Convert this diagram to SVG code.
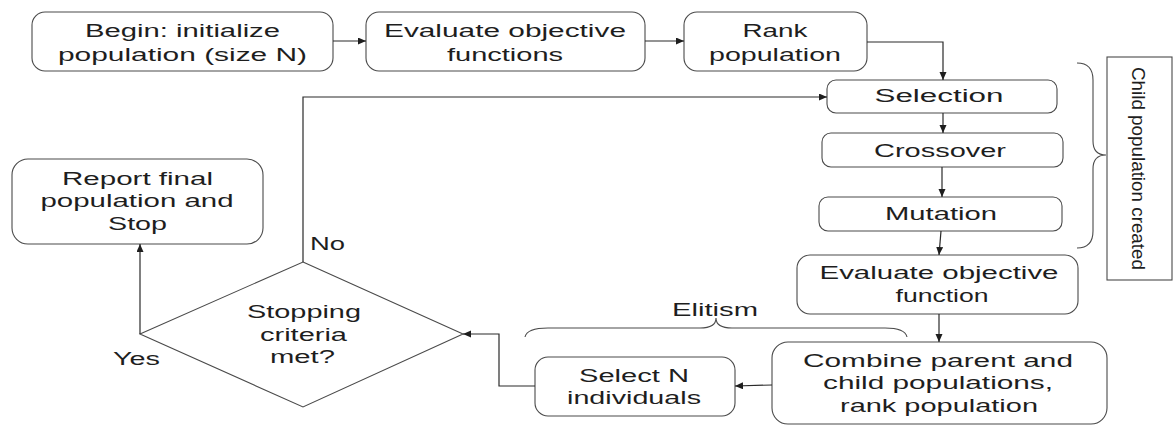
<svg xmlns="http://www.w3.org/2000/svg" width="1174" height="426" viewBox="0 0 1174 426">
<style>
.box{fill:#fff;stroke:#4a4a4a;stroke-width:1.1}
.t{font-family:"Liberation Sans",Arial,sans-serif;font-size:17.5px;fill:#1e1e1e;text-anchor:middle}
.c{fill:none;stroke:#2a2a2a;stroke-width:1.2}
.br{fill:none;stroke:#4a4a4a;stroke-width:1.1}
</style>
<defs>
<marker id="ah" markerUnits="userSpaceOnUse" markerWidth="9" markerHeight="8" refX="8" refY="3.5" orient="auto">
<path d="M0,0 L8,3.5 L0,7 z" fill="#1e1e1e"/>
</marker>
</defs>
<rect width="1174" height="426" fill="#fff"/>

<g id="begin">
<rect class="box" x="32" y="12" width="301" height="59" rx="13"/>
<text class="t" x="182.5" y="37" textLength="195" lengthAdjust="spacingAndGlyphs">Begin: initialize</text>
<text class="t" x="182.5" y="61" textLength="249" lengthAdjust="spacingAndGlyphs">population (size N)</text>
</g>
<g id="evaluate1">
<rect class="box" x="366" y="12" width="279" height="59" rx="13"/>
<text class="t" x="505" y="37" textLength="242" lengthAdjust="spacingAndGlyphs">Evaluate objective</text>
<text class="t" x="505" y="61" textLength="116" lengthAdjust="spacingAndGlyphs">functions</text>
</g>
<g id="rank">
<rect class="box" x="684" y="12" width="183" height="59" rx="13"/>
<text class="t" x="775" y="37" textLength="65" lengthAdjust="spacingAndGlyphs">Rank</text>
<text class="t" x="775" y="61" textLength="132" lengthAdjust="spacingAndGlyphs">population</text>
</g>
<g id="selection">
<rect class="box" x="827" y="80" width="230" height="33" rx="9"/>
<text class="t" x="939" y="102" textLength="129" lengthAdjust="spacingAndGlyphs">Selection</text>
</g>
<g id="crossover">
<rect class="box" x="822" y="133" width="241" height="34" rx="9"/>
<text class="t" x="940" y="157" textLength="132" lengthAdjust="spacingAndGlyphs">Crossover</text>
</g>
<g id="mutation">
<rect class="box" x="819" y="197" width="243" height="34" rx="9"/>
<text class="t" x="941" y="220" textLength="112" lengthAdjust="spacingAndGlyphs">Mutation</text>
</g>
<g id="evaluate2">
<rect class="box" x="797" y="255" width="281" height="59" rx="13"/>
<text class="t" x="939" y="279" textLength="239" lengthAdjust="spacingAndGlyphs">Evaluate objective</text>
<text class="t" x="942" y="302" textLength="93" lengthAdjust="spacingAndGlyphs">function</text>
</g>
<g id="combine">
<rect class="box" x="772" y="342" width="335" height="82" rx="16"/>
<text class="t" x="938" y="367" textLength="270" lengthAdjust="spacingAndGlyphs">Combine parent and</text>
<text class="t" x="938" y="389" textLength="230" lengthAdjust="spacingAndGlyphs">child populations,</text>
<text class="t" x="939" y="412" textLength="198" lengthAdjust="spacingAndGlyphs">rank population</text>
</g>
<g id="selectN">
<rect class="box" x="535" y="357" width="200" height="59" rx="13"/>
<text class="t" x="634" y="382" textLength="110" lengthAdjust="spacingAndGlyphs">Select N</text>
<text class="t" x="634" y="404" textLength="134" lengthAdjust="spacingAndGlyphs">individuals</text>
</g>
<g id="stopping">
<polygon class="box" points="303,262 463,334 303,407 140,334"/>
<text class="t" x="304" y="318" textLength="114" lengthAdjust="spacingAndGlyphs">Stopping</text>
<text class="t" x="303.5" y="341" textLength="87" lengthAdjust="spacingAndGlyphs">criteria</text>
<text class="t" x="302.5" y="363" textLength="65" lengthAdjust="spacingAndGlyphs">met?</text>
</g>
<g id="report">
<rect class="box" x="12" y="159" width="251" height="85" rx="16"/>
<text class="t" x="137.5" y="185" textLength="151" lengthAdjust="spacingAndGlyphs">Report final</text>
<text class="t" x="137" y="207" textLength="193" lengthAdjust="spacingAndGlyphs">population and</text>
<text class="t" x="137.5" y="230" textLength="59" lengthAdjust="spacingAndGlyphs">Stop</text>
</g>
<g id="childPopulation">
<rect class="box" x="1107" y="57" width="65" height="223"/>
<text class="t" transform="translate(1132,168.5) rotate(90)" x="0" y="0" style="font-size:18.5px" textLength="203" lengthAdjust="spacingAndGlyphs">Child population created</text>
<path class="br" d="M1077,63 Q1093,63 1093,80 L1093,141 Q1093,155 1106,155 Q1093,155 1093,169 L1093,231 Q1093,248 1077,248"/>
</g>
<g id="elitism">
<text class="t" x="715" y="316" textLength="86" lengthAdjust="spacingAndGlyphs">Elitism</text>
<path class="br" d="M525,337 Q527,328 548,328 L700,328 Q716,328 716,318 Q716,328 732,328 L885,328 Q905,328 907,337"/>
</g>

<g id="connectors">
<path class="c" d="M333,41 L366,41" marker-end="url(#ah)"/>
<path class="c" d="M645,41 L684,41" marker-end="url(#ah)"/>
<path class="c" d="M867,42 L943,42 L943,80" marker-end="url(#ah)"/>
<path class="c" d="M943,113 L943,133" marker-end="url(#ah)"/>
<path class="c" d="M942,167 L942,197" marker-end="url(#ah)"/>
<path class="c" d="M941,231 L939,255" marker-end="url(#ah)"/>
<path class="c" d="M939,314 L939,342" marker-end="url(#ah)"/>
<path class="c" d="M772,385 L735,386" marker-end="url(#ah)"/>
<path class="c" d="M535,386 L499,386 L499,334 L463,334" marker-end="url(#ah)"/>
<path class="c" d="M303,262 L303,97 L827,97" marker-end="url(#ah)"/>
<path class="c" d="M140,334 L140,244" marker-end="url(#ah)"/>
<text class="t" x="327.5" y="250" textLength="35" lengthAdjust="spacingAndGlyphs">No</text>
<text class="t" x="136.5" y="365" textLength="47" lengthAdjust="spacingAndGlyphs">Yes</text>
</g>
</svg>
